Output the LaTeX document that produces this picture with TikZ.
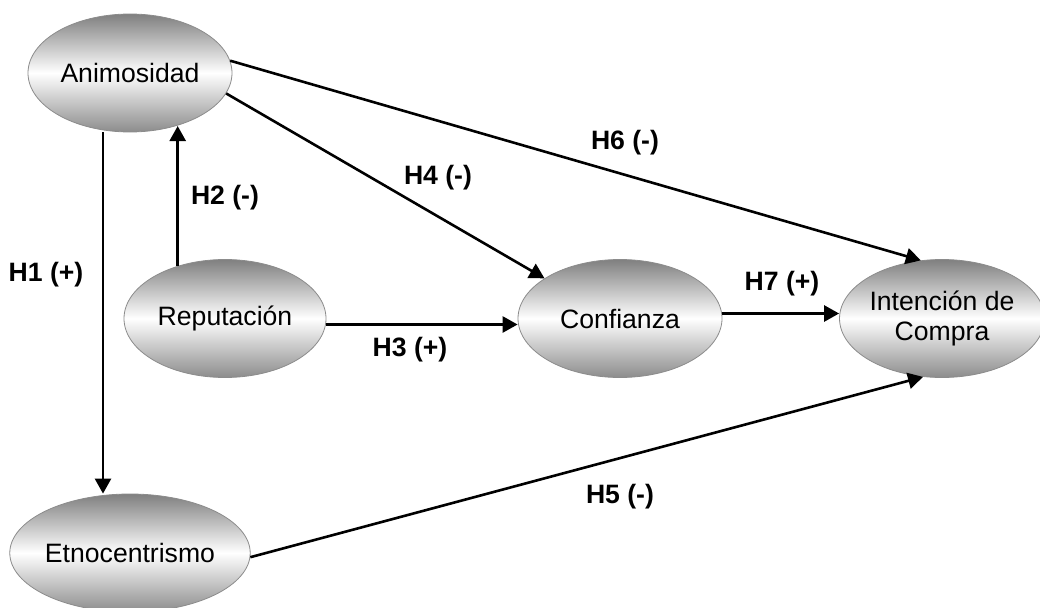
\documentclass[tikz,border=0pt]{standalone}
\usepackage{fontspec}
\setmainfont{Liberation Sans}
\usetikzlibrary{shapes.geometric,arrows.meta}
\begin{document}
\begin{tikzpicture}[x=1pt,y=-1pt,
  construct/.style={ellipse,draw=black!45,line width=0.8pt,
    top color=black!50,bottom color=black!45,middle color=white,
    minimum width=204pt,minimum height=118pt,inner sep=0pt,
    font=\fontsize{26.6}{30}\selectfont,align=center},
  arr/.style={line width=2.6pt,-{Triangle[length=15pt,width=16pt]}},
  hyp/.style={font=\fontsize{26.6}{30}\selectfont\bfseries}]
\useasboundingbox (0,0) rectangle (1040,607);
\node[construct] (anim) at (130,73) {Animosidad};
\node[construct,minimum width=202pt] (rep) at (225,318.5) {Reputación};
\node[construct] (conf) at (620,318.5) {Confianza};
\node[construct,minimum width=188pt] (int) at (942,318.5) {Intención de\\Compra};
\node[construct] (etno) at (130,553) {Etnocentrismo};
% H1
\draw[arr] ([xshift=-27pt]anim.south) -- ([xshift=-27pt]etno.north);
% H2
\draw[arr] (rep.132.8) -- (rep.132.8 |- anim.311.9);
% H3
\draw[arr] ([yshift=-6pt]rep.east) -- ([yshift=-6pt]conf.west);
% H7
\draw[arr] ([yshift=5pt]conf.east) -- ([yshift=5pt]int.west);
% H4
\draw[arr] (anim.348.4) -- (conf.152.5);
% H6
\draw[arr] (anim.7.4) -- (int.110.6);
% H5
\draw[arr] (etno.-2.8) -- (int.252);
% labels
\node[hyp] (l6) at (625,143) {H6 (-)};
\node[hyp] (l4) at (438,178) {H4 (-)};
\node[hyp] (l2) at (225,198) {H2 (-)};
\node[hyp] (l1) at (46,275) {H1 (+)};
\node[hyp] (l3) at (410,350) {H3 (+)};
\node[hyp] (l7) at (782,284) {H7 (+)};
\node[hyp] (l5) at (620,497) {H5 (-)};
\end{tikzpicture}
\end{document}
